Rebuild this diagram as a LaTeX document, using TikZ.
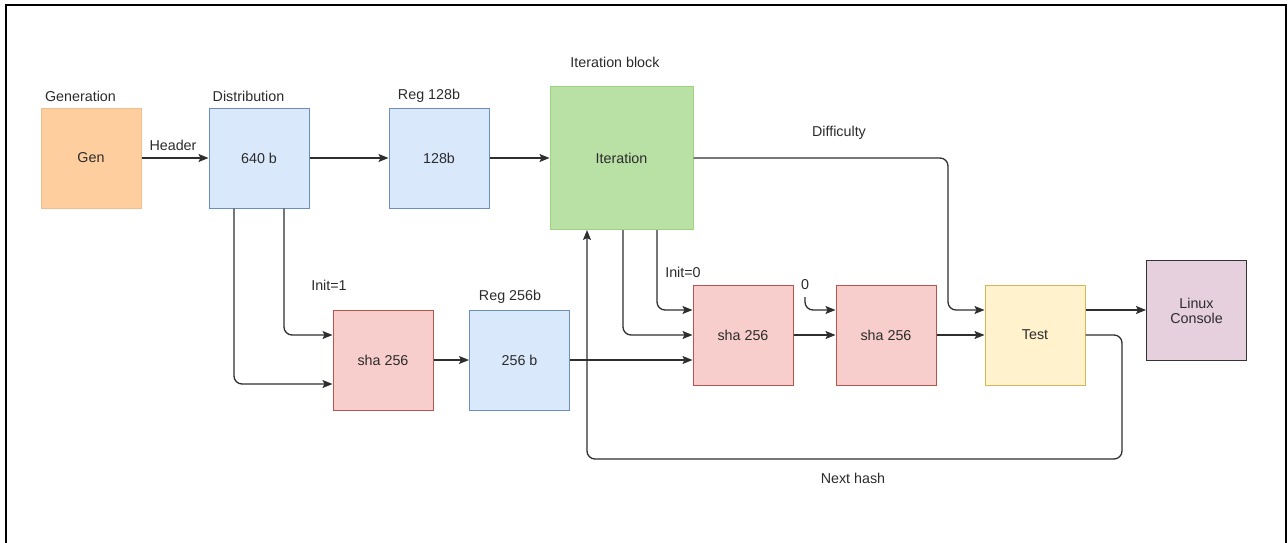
\documentclass[tikz,border=0pt]{standalone}
\usepackage{fontspec}
\setmainfont{Liberation Sans}
\usetikzlibrary{arrows.meta}
\definecolor{txt}{HTML}{2B2B2B}
\definecolor{wire}{HTML}{2E2E2E}
\definecolor{orfill}{HTML}{FFCE9F}\definecolor{ordraw}{HTML}{EDBE8E}
\definecolor{bufill}{HTML}{DAE8FC}\definecolor{budraw}{HTML}{6C8EBF}
\definecolor{grfill}{HTML}{B9E0A5}\definecolor{grdraw}{HTML}{9CD37E}
\definecolor{rdfill}{HTML}{F8CECC}\definecolor{rddraw}{HTML}{B85450}
\definecolor{yefill}{HTML}{FFF2CC}\definecolor{yedraw}{HTML}{D6B656}
\definecolor{pufill}{HTML}{E6D0DE}\definecolor{pudraw}{HTML}{333333}
\tikzset{
  block/.style={draw, line width=1pt, minimum width=100pt, minimum height=100pt,
    inner sep=0pt, text=txt, font=\fontsize{14.3}{17}\selectfont, align=center},
  lbl/.style={text=txt, font=\fontsize{14.3}{17}\selectfont, inner sep=0pt},
  wireto/.style={draw=wire, line width=1.3pt, rounded corners=8pt,
    -{Stealth[length=10pt,width=8pt,inset=2pt]}},
}
\begin{document}
\begin{tikzpicture}[x=1pt,y=-1pt]
\useasboundingbox (0,0) rectangle (1288,543);
% outer frame
\draw[line width=2pt] (6,545) -- (6,5) -- (1286,5) -- (1286,545);

% blocks
\node[block, fill=orfill, draw=ordraw] (gen)  at (91,158)  {Gen};
\node[block, fill=bufill, draw=budraw] (dist) at (259,158) {640 b};
\node[block, fill=bufill, draw=budraw] (r128) at (439,158) {128b};
\node[block, fill=grfill, draw=grdraw, minimum width=143pt, minimum height=143pt] (iter) at (621.5,158) {Iteration};
\node[block, fill=rdfill, draw=rddraw] (shaA) at (383,360) {sha 256};
\node[block, fill=bufill, draw=budraw] (r256) at (519.5,360) {256 b};
\node[block, fill=rdfill, draw=rddraw] (shaB) at (743,335) {sha 256};
\node[block, fill=rdfill, draw=rddraw] (shaC) at (886,335) {sha 256};
\node[block, fill=yefill, draw=yedraw] (test) at (1035,335) {Test};
\node[block, fill=pufill, draw=pudraw] (lnx)  at (1196.5,310.5) {Linux\\[-2pt]Console};

% block titles and wire labels
\node[lbl] (tGen)  at (80.5,96)  {Generation};
\node[lbl] (tDist) at (248.5,96) {Distribution};
\node[lbl] (tR128) at (429,96)   {Reg 128b};
\node[lbl] (tIter) at (615,62)   {Iteration block};
\node[lbl] (tR256) at (510,297)  {Reg 256b};
\node[lbl] (lHead) at (173,145)  {Header};
\node[lbl] (lInA)  at (329,285)  {Init=1};
\node[lbl] (lInB)  at (683,272)  {Init=0};
\node[lbl] (lZero) at (805,285)  {0};
\node[lbl] (lDiff) at (839,133)  {Difficulty};
\node[lbl] (lNext) at (853,478)  {Next hash};

% top row
\draw[wireto] (gen.east) -- (dist.west);
\draw[wireto] (dist.east) -- (r128.west);
\draw[wireto] (r128.east) -- (iter.west |- r128.east);
\draw[wireto] (iter.east |- 0,158) -- (948,158) -- (948,310) -- (test.west |- 0,310);

% distribution to first hash
\draw[wireto] (dist.south -| 284,0) -- (284,335) -- (shaA.west |- 0,335);
\draw[wireto] (dist.south -| 234,0) -- (234,384) -- (shaA.west |- 0,384);
\draw[wireto] (shaA.east) -- (r256.west);
\draw[wireto] (r256.east) -- (shaB.west |- r256.east);

% iteration to double hash
\draw[wireto] (iter.south -| 657,0) -- (657,310) -- (shaB.west |- 0,310);
\draw[wireto] (iter.south -| 623,0) -- (623,335) -- (shaB.west |- 0,335);
\draw[wireto] (shaB.east) -- (shaC.west);
\coordinate (zeroIn) at (805,297);
\draw[wireto] (zeroIn) -- (805,310) -- (shaC.west |- 0,310);
\draw[wireto] (shaC.east) -- (test.west);

% test outputs
\draw[wireto] (test.east |- 0,310) -- (lnx.west |- 0,310);
\draw[wireto] (test.east) -- (1122,335) -- (1122,459) -- (587,459) -- (iter.south -| 587,0);
\end{tikzpicture}
\end{document}
